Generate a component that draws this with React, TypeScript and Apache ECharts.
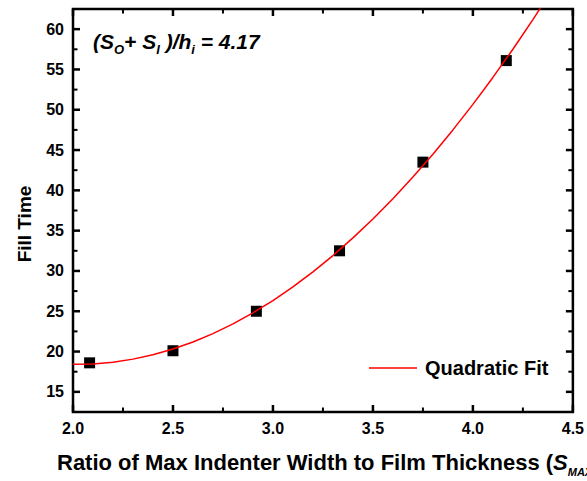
import React, { useEffect, useRef } from "react";
import * as echarts from "echarts";

const pointX = [2.083, 2.5, 2.917, 3.333, 3.75, 4.167];
const pointY = [18.6, 20.1, 25.0, 32.5, 43.5, 56.1];

const fitX = [2.0, 2.1, 2.2, 2.3, 2.4, 2.5, 2.6, 2.7, 2.8, 2.9, 3.0, 3.1, 3.2, 3.3, 3.4, 3.5, 3.6, 3.7, 3.8, 3.9, 4.0, 4.1, 4.2, 4.3, 4.4];
const fitY = [18.41, 18.46, 18.68, 19.06, 19.61, 20.32, 21.19, 22.23, 23.43, 24.8, 26.33, 28.03, 29.89, 31.91, 34.1, 36.45, 38.97, 41.65, 44.49, 47.5, 50.67, 54.01, 57.51, 61.18, 65.01];

const xMajorTicks = [2.0, 2.5, 3.0, 3.5, 4.0, 4.5];
const xMinorTicks = [2.25, 2.75, 3.25, 3.75, 4.25];
const yMajorTicks = [15, 20, 25, 30, 35, 40, 45, 50, 55, 60];
const yMinorTicks = [17.5, 22.5, 27.5, 32.5, 37.5, 42.5, 47.5, 52.5, 57.5];
const X_MIN = 2;
const X_MAX = 4.5;
const Y_MIN = 12.5;
const Y_MAX = 62.5;

const FONT = "'Liberation Sans', Arial, Helvetica, sans-serif";

export default function App() {
  const ref = useRef<HTMLDivElement>(null);
  useEffect(() => {
    document.body.style.margin = "0";
    if (!ref.current) return;
    const chart = echarts.init(ref.current, undefined, { renderer: "svg" });
    const sub = { fontWeight: "bold", fontStyle: "italic", fontFamily: FONT, fill: "#000", lineHeight: 14, verticalAlign: "bottom" };

    const renderFrame = (params: any, api: any) => {
      const bl = api.coord([X_MIN, Y_MIN]);
      const tr = api.coord([X_MAX, Y_MAX]);
      const children: any[] = [];
      const ln = (x1: number, y1: number, x2: number, y2: number, w: number) =>
        children.push({ type: "line", shape: { x1, y1, x2, y2 }, style: { stroke: "#000", lineWidth: w } });
      const MAJ = 7;
      const MIN = 4.5;
      xMajorTicks.forEach((v) => {
        const p = api.coord([v, Y_MIN]);
        ln(p[0], bl[1], p[0], bl[1] - MAJ, 2.5);
        ln(p[0], tr[1], p[0], tr[1] + MAJ, 2.5);
      });
      xMinorTicks.forEach((v) => {
        const p = api.coord([v, Y_MIN]);
        ln(p[0], bl[1], p[0], bl[1] - MIN, 2);
        ln(p[0], tr[1], p[0], tr[1] + MIN, 2);
      });
      yMajorTicks.forEach((v) => {
        const p = api.coord([X_MIN, v]);
        ln(bl[0], p[1], bl[0] + MAJ, p[1], 2.5);
        ln(tr[0], p[1], tr[0] - MAJ, p[1], 2.5);
      });
      yMinorTicks.forEach((v) => {
        const p = api.coord([X_MIN, v]);
        ln(bl[0], p[1], bl[0] + MIN, p[1], 2);
        ln(tr[0], p[1], tr[0] - MIN, p[1], 2);
      });
      children.push({
        type: "rect",
        shape: { x: bl[0], y: tr[1], width: tr[0] - bl[0], height: bl[1] - tr[1] },
        style: { stroke: "#000", lineWidth: 2.5, fill: "none" },
      });
      return { type: "group", children };
    };

    chart.setOption({
      animation: false,
      backgroundColor: "#fff",
      grid: { left: 73, right: 14, top: 9, bottom: 69, containLabel: false },
      xAxis: {
        type: "value",
        min: X_MIN,
        max: X_MAX,
        interval: 0.5,
        axisLine: { show: false, onZero: false },
        axisTick: { show: false },
        splitLine: { show: false },
        axisLabel: {
          color: "#000",
          fontSize: 16,
          fontWeight: "bold",
          fontFamily: FONT,
          margin: 8,
          formatter: (v: number) => v.toFixed(1),
        },
      },
      yAxis: {
        type: "value",
        min: Y_MIN,
        max: Y_MAX,
        splitNumber: 10,
        axisLine: { show: false, onZero: false },
        axisTick: { show: false },
        splitLine: { show: false },
        axisLabel: {
          color: "#000",
          fontSize: 16,
          fontWeight: "bold",
          fontFamily: FONT,
          margin: 9,
          formatter: (v: number) => (Math.abs(v % 5) < 1e-6 ? String(v) : ""),
        },
      },
      legend: {
        data: ["Quadratic Fit"],
        left: 369,
        top: 358,
        padding: 0,
        icon: "rect",
        itemWidth: 48,
        itemHeight: 1.5,
        itemStyle: { color: "#ff0000" },
        textStyle: { color: "#000", fontSize: 20, fontWeight: "bold", fontFamily: FONT, padding: [0, 0, 0, 3] },
      },
      series: [
        {
          name: "frame",
          type: "custom",
          clip: false,
          silent: true,
          z: 1,
          renderItem: renderFrame,
          data: [[X_MIN, Y_MIN]],
        },
        {
          name: "Data",
          type: "scatter",
          symbol: "rect",
          symbolSize: 11,
          itemStyle: { color: "#000", opacity: 1 },
          data: pointX.map((x, i) => [x, pointY[i]]),
          z: 2,
        },
        {
          name: "Quadratic Fit",
          type: "line",
          symbol: "none",
          showSymbol: false,
          clip: true,
          lineStyle: { color: "#ff0000", width: 1.5 },
          itemStyle: { color: "#ff0000" },
          data: fitX.map((x, i) => [x, fitY[i]]),
          z: 3,
        },
      ],
      graphic: [
        {
          type: "text",
          x: 24,
          y: 224,
          rotation: Math.PI / 2,
          style: { text: "Fill Time", fill: "#000", fontSize: 19, fontWeight: "bold", fontFamily: FONT, align: "center", verticalAlign: "middle" },
        },
        {
          type: "text",
          x: 57,
          y: 447,
          style: {
            text: "{a|Ratio of Max Indenter Width to Film Thickness (}{b|S}{s|MAX}{b| /h}{s|i}{a|)}",
            align: "left",
            verticalAlign: "top",
            fill: "#000",
            rich: {
              a: { fontSize: 22, fontWeight: "bold", fontFamily: FONT, fill: "#000", lineHeight: 30 },
              b: { fontSize: 22, fontWeight: "bold", fontStyle: "italic", fontFamily: FONT, fill: "#000", lineHeight: 30 },
              s: { ...sub, fontSize: 11 },
            },
          },
        },
        {
          type: "text",
          x: 93,
          y: 26,
          style: {
            text: "{b|(S}{s|O}{b|+ S}{s|I}{b| )/h}{s|i}{b| = 4.17}",
            align: "left",
            verticalAlign: "top",
            fill: "#000",
            rich: {
              b: { fontSize: 21, fontWeight: "bold", fontStyle: "italic", fontFamily: FONT, fill: "#000", lineHeight: 30 },
              s: { ...sub, fontSize: 13 },
            },
          },
        },
      ],
    });
    return () => chart.dispose();
  }, []);
  return <div ref={ref} style={{ width: 587, height: 481 }} />;
}
